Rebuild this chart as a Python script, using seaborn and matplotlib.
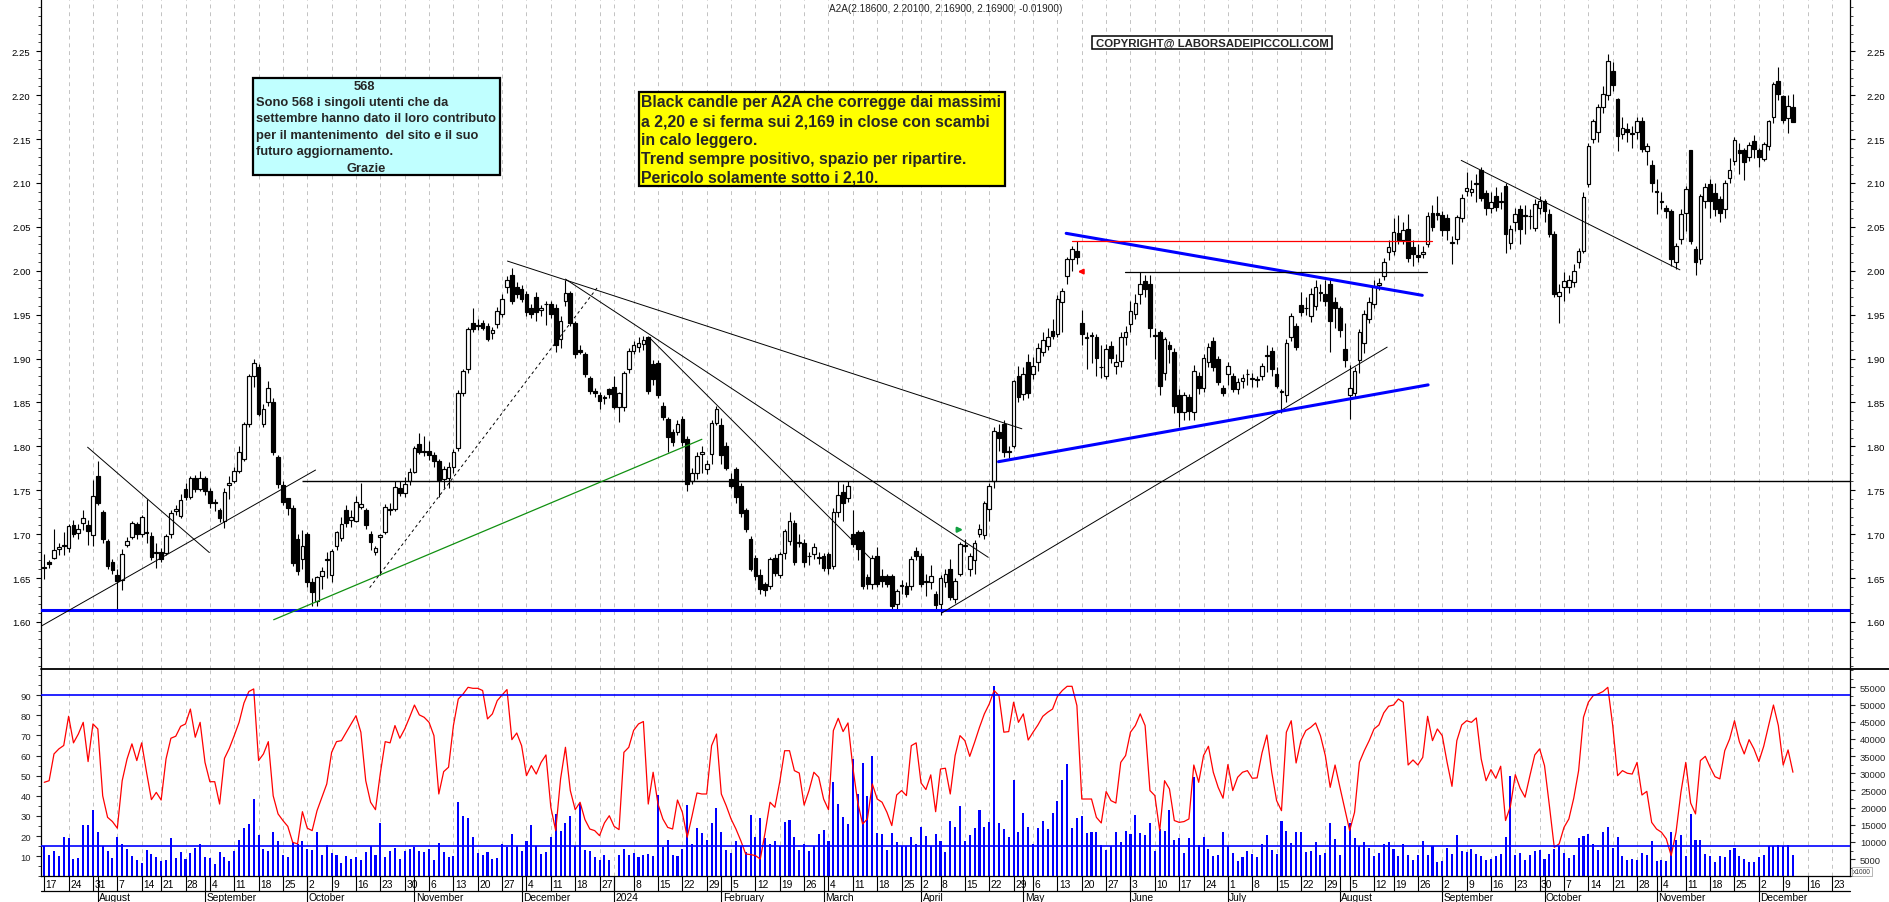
import numpy as np
import pandas as pd
import matplotlib
matplotlib.use("Agg")
import matplotlib.pyplot as plt
from matplotlib import font_manager
from matplotlib.patches import Rectangle
from matplotlib.lines import Line2D
from matplotlib.ticker import MultipleLocator, FixedLocator, FormatStrFormatter, NullLocator
from matplotlib.transforms import blended_transform_factory
import seaborn as sns

# ---------------------------------------------------------------- data
first_day = "2023-07-17"
holidays = ["2023-08-15", "2023-12-25", "2023-12-26", "2024-01-01", "2024-03-29",
            "2024-04-01", "2024-05-01", "2024-08-15", "2024-12-24", "2024-12-25", "2024-12-26"]

opens = [
    1.663, 1.668, 1.673, 1.683, 1.688, 1.684, 1.710, 1.701, 1.713, 1.710,
    1.699, 1.766, 1.725, 1.692, 1.668, 1.653, 1.648, 1.688, 1.697, 1.711,
    1.700, 1.701, 1.698, 1.679, 1.680, 1.679, 1.700, 1.726, 1.721, 1.751,
    1.742, 1.764, 1.751, 1.764, 1.749, 1.737, 1.727, 1.715, 1.756, 1.760,
    1.772, 1.786, 1.826, 1.880, 1.890, 1.825, 1.850, 1.850, 1.788, 1.756,
    1.741, 1.730, 1.694, 1.672, 1.700, 1.645, 1.624, 1.652, 1.671, 1.653,
    1.687, 1.696, 1.728, 1.716, 1.715, 1.731, 1.727, 1.700, 1.680, 1.697,
    1.703, 1.729, 1.729, 1.752, 1.747, 1.760, 1.771, 1.803, 1.795, 1.795,
    1.790, 1.783, 1.763, 1.764, 1.776, 1.798, 1.861, 1.888, 1.941, 1.938,
    1.940, 1.937, 1.929, 1.939, 1.951, 1.981, 1.995, 1.981, 1.979, 1.973,
    1.958, 1.970, 1.955, 1.962, 1.962, 1.958, 1.922, 1.966, 1.975, 1.941,
    1.910, 1.905, 1.878, 1.863, 1.859, 1.856, 1.865, 1.868, 1.845, 1.845,
    1.888, 1.909, 1.913, 1.917, 1.924, 1.894, 1.895, 1.846, 1.831, 1.816,
    1.816, 1.831, 1.808, 1.761, 1.770, 1.791, 1.774, 1.791, 1.827, 1.824,
    1.800, 1.763, 1.774, 1.755, 1.727, 1.694, 1.673, 1.654, 1.643, 1.641,
    1.673, 1.654, 1.679, 1.692, 1.713, 1.690, 1.690, 1.675, 1.677, 1.673,
    1.675, 1.677, 1.664, 1.725, 1.748, 1.741, 1.700, 1.702, 1.702, 1.651,
    1.643, 1.675, 1.652, 1.652, 1.652, 1.620, 1.641, 1.641, 1.641, 1.681,
    1.675, 1.647, 1.645, 1.632, 1.621, 1.645, 1.660, 1.626, 1.655, 1.687,
    1.660, 1.671, 1.700, 1.699, 1.729, 1.760, 1.816, 1.826, 1.795, 1.800,
    1.880, 1.860, 1.896, 1.882, 1.896, 1.907, 1.914, 1.931, 1.928, 1.964,
    1.994, 2.013, 2.022, 1.940, 1.923, 1.926, 1.925, 1.890, 1.880, 1.914,
    1.892, 1.897, 1.924, 1.939, 1.951, 1.973, 1.988, 1.985, 1.926, 1.930,
    1.884, 1.915, 1.908, 1.858, 1.839, 1.856, 1.839, 1.880, 1.867, 1.896,
    1.920, 1.899, 1.867, 1.882, 1.880, 1.865, 1.874, 1.882, 1.878, 1.877,
    1.880, 1.903, 1.909, 1.882, 1.862, 1.858, 1.924, 1.937, 1.961, 1.958,
    1.949, 1.960, 1.975, 1.974, 1.985, 1.964, 1.958, 1.911, 1.858, 1.861,
    1.898, 1.918, 1.945, 1.962, 1.984, 1.994, 2.021, 2.023, 2.043, 2.035,
    2.047, 2.027, 2.018, 2.019, 2.030, 2.066, 2.066, 2.063, 2.060, 2.032,
    2.036, 2.060, 2.091, 2.090, 2.100, 2.115, 2.089, 2.072, 2.085, 2.078,
    2.097, 2.032, 2.056, 2.070, 2.063, 2.062, 2.049, 2.072, 2.079, 2.065,
    2.042, 1.971, 1.981, 1.981, 1.987, 2.010, 2.023, 2.099, 2.150, 2.158,
    2.186, 2.200, 2.228, 2.196, 2.156, 2.162, 2.157, 2.158, 2.171, 2.136,
    2.120, 2.091, 2.078, 2.072, 2.068, 2.010, 2.036, 2.066, 2.137, 2.025,
    2.013, 2.080, 2.099, 2.089, 2.082, 2.070, 2.106, 2.125, 2.137, 2.137,
    2.129, 2.148, 2.137, 2.127, 2.142, 2.175, 2.216, 2.199, 2.174, 2.186,
]
highs = [
    1.677, 1.670, 1.706, 1.690, 1.703, 1.712, 1.716, 1.712, 1.728, 1.716,
    1.762, 1.783, 1.728, 1.695, 1.672, 1.660, 1.683, 1.697, 1.715, 1.714,
    1.722, 1.740, 1.702, 1.690, 1.684, 1.700, 1.727, 1.733, 1.746, 1.758,
    1.766, 1.767, 1.772, 1.766, 1.752, 1.740, 1.730, 1.752, 1.766, 1.777,
    1.800, 1.828, 1.882, 1.900, 1.894, 1.848, 1.874, 1.855, 1.790, 1.760,
    1.741, 1.733, 1.700, 1.705, 1.702, 1.650, 1.652, 1.663, 1.680, 1.683,
    1.704, 1.720, 1.733, 1.727, 1.743, 1.758, 1.730, 1.704, 1.686, 1.700,
    1.734, 1.735, 1.760, 1.760, 1.765, 1.775, 1.800, 1.815, 1.812, 1.806,
    1.793, 1.786, 1.778, 1.782, 1.797, 1.864, 1.888, 1.936, 1.958, 1.945,
    1.944, 1.940, 1.936, 1.959, 1.973, 1.994, 2.003, 1.987, 1.984, 1.977,
    1.962, 1.976, 1.961, 1.966, 1.966, 1.962, 1.948, 1.990, 1.977, 1.943,
    1.915, 1.907, 1.880, 1.866, 1.862, 1.858, 1.866, 1.880, 1.862, 1.886,
    1.912, 1.920, 1.925, 1.926, 1.926, 1.898, 1.898, 1.850, 1.833, 1.820,
    1.830, 1.835, 1.812, 1.775, 1.793, 1.800, 1.785, 1.830, 1.846, 1.832,
    1.805, 1.770, 1.776, 1.758, 1.730, 1.698, 1.676, 1.660, 1.646, 1.674,
    1.677, 1.680, 1.706, 1.725, 1.716, 1.700, 1.695, 1.680, 1.690, 1.680,
    1.678, 1.680, 1.730, 1.760, 1.757, 1.760, 1.728, 1.705, 1.705, 1.655,
    1.676, 1.685, 1.660, 1.655, 1.655, 1.637, 1.648, 1.645, 1.675, 1.685,
    1.678, 1.655, 1.665, 1.635, 1.653, 1.660, 1.672, 1.650, 1.691, 1.695,
    1.678, 1.693, 1.712, 1.738, 1.758, 1.822, 1.826, 1.830, 1.800, 1.876,
    1.892, 1.890, 1.905, 1.902, 1.918, 1.930, 1.935, 1.945, 1.972, 1.980,
    2.016, 2.028, 2.034, 1.955, 1.930, 1.930, 1.928, 1.915, 1.917, 1.920,
    1.905, 1.930, 1.937, 1.965, 1.973, 1.998, 1.995, 1.995, 1.935, 1.933,
    1.925, 1.920, 1.912, 1.865, 1.862, 1.860, 1.893, 1.885, 1.905, 1.918,
    1.925, 1.903, 1.870, 1.896, 1.883, 1.878, 1.882, 1.888, 1.883, 1.880,
    1.895, 1.915, 1.913, 1.890, 1.865, 1.922, 1.952, 1.940, 1.976, 1.970,
    1.980, 1.990, 1.985, 1.990, 1.992, 1.970, 1.960, 1.940, 1.893, 1.890,
    1.934, 1.955, 1.970, 1.990, 1.992, 2.015, 2.035, 2.060, 2.063, 2.055,
    2.065, 2.035, 2.030, 2.028, 2.067, 2.075, 2.085, 2.068, 2.065, 2.040,
    2.064, 2.087, 2.112, 2.103, 2.110, 2.118, 2.092, 2.090, 2.095, 2.090,
    2.100, 2.052, 2.072, 2.075, 2.075, 2.070, 2.082, 2.085, 2.082, 2.070,
    2.045, 1.985, 1.998, 1.995, 2.008, 2.026, 2.090, 2.145, 2.173, 2.190,
    2.210, 2.247, 2.238, 2.197, 2.175, 2.168, 2.165, 2.175, 2.175, 2.145,
    2.126, 2.105, 2.090, 2.075, 2.070, 2.032, 2.070, 2.097, 2.138, 2.028,
    2.087, 2.100, 2.105, 2.100, 2.085, 2.103, 2.128, 2.152, 2.145, 2.140,
    2.147, 2.155, 2.140, 2.147, 2.172, 2.215, 2.232, 2.200, 2.200, 2.201,
]
lows = [
    1.649, 1.662, 1.672, 1.676, 1.676, 1.680, 1.697, 1.695, 1.705, 1.688,
    1.686, 1.733, 1.690, 1.660, 1.655, 1.613, 1.636, 1.685, 1.694, 1.695,
    1.697, 1.690, 1.670, 1.662, 1.668, 1.676, 1.696, 1.722, 1.718, 1.739,
    1.740, 1.748, 1.749, 1.745, 1.730, 1.726, 1.714, 1.707, 1.740, 1.758,
    1.770, 1.783, 1.822, 1.868, 1.834, 1.822, 1.846, 1.790, 1.752, 1.733,
    1.722, 1.664, 1.653, 1.660, 1.640, 1.618, 1.618, 1.638, 1.650, 1.646,
    1.682, 1.692, 1.708, 1.708, 1.714, 1.729, 1.706, 1.682, 1.676, 1.654,
    1.700, 1.722, 1.726, 1.743, 1.742, 1.756, 1.770, 1.791, 1.789, 1.785,
    1.777, 1.742, 1.752, 1.753, 1.770, 1.795, 1.857, 1.884, 1.930, 1.932,
    1.932, 1.920, 1.922, 1.935, 1.947, 1.975, 1.962, 1.969, 1.964, 1.949,
    1.946, 1.943, 1.948, 1.938, 1.946, 1.908, 1.912, 1.960, 1.937, 1.901,
    1.905, 1.879, 1.860, 1.856, 1.843, 1.848, 1.855, 1.842, 1.828, 1.840,
    1.884, 1.905, 1.908, 1.910, 1.860, 1.870, 1.855, 1.830, 1.793, 1.800,
    1.813, 1.800, 1.749, 1.757, 1.763, 1.770, 1.768, 1.780, 1.824, 1.780,
    1.773, 1.752, 1.736, 1.720, 1.703, 1.658, 1.648, 1.632, 1.630, 1.638,
    1.652, 1.650, 1.672, 1.688, 1.665, 1.685, 1.663, 1.665, 1.672, 1.666,
    1.658, 1.655, 1.660, 1.720, 1.715, 1.737, 1.685, 1.670, 1.638, 1.638,
    1.638, 1.640, 1.640, 1.640, 1.615, 1.612, 1.632, 1.628, 1.636, 1.670,
    1.640, 1.630, 1.637, 1.612, 1.608, 1.640, 1.625, 1.622, 1.652, 1.680,
    1.652, 1.655, 1.697, 1.694, 1.715, 1.752, 1.795, 1.788, 1.787, 1.798,
    1.850, 1.853, 1.855, 1.877, 1.886, 1.903, 1.910, 1.922, 1.924, 1.930,
    1.985, 2.000, 2.008, 1.915, 1.888, 1.895, 1.880, 1.878, 1.877, 1.895,
    1.882, 1.890, 1.915, 1.930, 1.945, 1.962, 1.970, 1.925, 1.900, 1.858,
    1.875, 1.895, 1.838, 1.822, 1.830, 1.830, 1.830, 1.860, 1.862, 1.890,
    1.886, 1.870, 1.857, 1.870, 1.862, 1.860, 1.866, 1.870, 1.868, 1.868,
    1.875, 1.885, 1.880, 1.866, 1.838, 1.850, 1.920, 1.910, 1.948, 1.950,
    1.942, 1.955, 1.965, 1.960, 1.908, 1.935, 1.925, 1.890, 1.831, 1.855,
    1.883, 1.906, 1.940, 1.958, 1.978, 1.990, 2.012, 2.018, 2.030, 2.030,
    2.010, 2.005, 2.010, 2.015, 2.027, 2.045, 2.058, 2.040, 2.035, 2.008,
    2.030, 2.055, 2.085, 2.085, 2.078, 2.080, 2.064, 2.066, 2.068, 2.070,
    2.020, 2.025, 2.045, 2.030, 2.042, 2.048, 2.045, 2.065, 2.055, 2.038,
    1.970, 1.940, 1.965, 1.975, 1.982, 2.003, 2.020, 2.095, 2.145, 2.147,
    2.180, 2.195, 2.205, 2.136, 2.150, 2.147, 2.140, 2.150, 2.135, 2.120,
    2.090, 2.065, 2.070, 2.060, 2.005, 2.002, 2.030, 2.045, 2.030, 1.995,
    2.008, 2.072, 2.060, 2.062, 2.055, 2.060, 2.100, 2.120, 2.110, 2.103,
    2.125, 2.128, 2.118, 2.125, 2.138, 2.168, 2.195, 2.168, 2.157, 2.169,
]
closes = [
    1.662, 1.666, 1.682, 1.685, 1.686, 1.709, 1.700, 1.706, 1.718, 1.704,
    1.744, 1.735, 1.694, 1.664, 1.659, 1.647, 1.677, 1.692, 1.713, 1.700,
    1.720, 1.703, 1.674, 1.680, 1.672, 1.698, 1.724, 1.729, 1.739, 1.742,
    1.764, 1.751, 1.764, 1.749, 1.735, 1.735, 1.718, 1.748, 1.758, 1.772,
    1.793, 1.826, 1.880, 1.895, 1.837, 1.842, 1.867, 1.793, 1.757, 1.737,
    1.730, 1.667, 1.658, 1.686, 1.645, 1.634, 1.651, 1.658, 1.672, 1.681,
    1.702, 1.712, 1.713, 1.720, 1.737, 1.734, 1.710, 1.691, 1.684, 1.699,
    1.731, 1.727, 1.754, 1.747, 1.757, 1.771, 1.798, 1.793, 1.793, 1.790,
    1.783, 1.762, 1.774, 1.776, 1.793, 1.861, 1.886, 1.934, 1.934, 1.937,
    1.935, 1.922, 1.932, 1.954, 1.968, 1.989, 1.966, 1.973, 1.968, 1.953,
    1.951, 1.953, 1.957, 1.962, 1.951, 1.915, 1.943, 1.975, 1.941, 1.905,
    1.908, 1.882, 1.863, 1.861, 1.852, 1.855, 1.860, 1.845, 1.861, 1.884,
    1.909, 1.915, 1.918, 1.921, 1.863, 1.877, 1.858, 1.833, 1.811, 1.805,
    1.825, 1.805, 1.757, 1.770, 1.789, 1.794, 1.780, 1.827, 1.842, 1.790,
    1.775, 1.755, 1.742, 1.724, 1.706, 1.660, 1.652, 1.637, 1.636, 1.672,
    1.656, 1.677, 1.704, 1.715, 1.668, 1.690, 1.668, 1.675, 1.685, 1.673,
    1.662, 1.662, 1.725, 1.745, 1.735, 1.755, 1.689, 1.683, 1.641, 1.643,
    1.673, 1.643, 1.647, 1.643, 1.618, 1.635, 1.641, 1.632, 1.672, 1.675,
    1.643, 1.646, 1.652, 1.619, 1.650, 1.655, 1.628, 1.647, 1.689, 1.687,
    1.675, 1.690, 1.706, 1.735, 1.755, 1.818, 1.810, 1.793, 1.793, 1.874,
    1.856, 1.882, 1.861, 1.891, 1.912, 1.921, 1.925, 1.926, 1.968, 1.977,
    2.013, 2.025, 2.016, 1.928, 1.925, 1.926, 1.901, 1.890, 1.911, 1.901,
    1.896, 1.924, 1.930, 1.954, 1.963, 1.985, 1.979, 1.935, 1.926, 1.869,
    1.922, 1.911, 1.846, 1.839, 1.858, 1.840, 1.886, 1.867, 1.901, 1.913,
    1.890, 1.873, 1.861, 1.892, 1.865, 1.873, 1.878, 1.882, 1.877, 1.876,
    1.892, 1.903, 1.888, 1.869, 1.862, 1.918, 1.949, 1.913, 1.953, 1.957,
    1.973, 1.981, 1.975, 1.966, 1.943, 1.958, 1.932, 1.898, 1.867, 1.886,
    1.930, 1.951, 1.964, 1.983, 1.986, 2.010, 2.027, 2.044, 2.035, 2.046,
    2.015, 2.019, 2.016, 2.021, 2.062, 2.050, 2.063, 2.046, 2.046, 2.033,
    2.061, 2.083, 2.094, 2.093, 2.099, 2.083, 2.072, 2.078, 2.073, 2.080,
    2.042, 2.047, 2.065, 2.048, 2.062, 2.062, 2.076, 2.080, 2.068, 2.042,
    1.973, 1.976, 1.988, 1.989, 2.000, 2.023, 2.084, 2.142, 2.170, 2.186,
    2.201, 2.239, 2.211, 2.154, 2.163, 2.158, 2.156, 2.170, 2.139, 2.142,
    2.100, 2.090, 2.080, 2.068, 2.013, 2.028, 2.065, 2.093, 2.034, 2.010,
    2.085, 2.095, 2.080, 2.070, 2.066, 2.100, 2.115, 2.149, 2.134, 2.124,
    2.143, 2.139, 2.129, 2.144, 2.170, 2.213, 2.201, 2.172, 2.188, 2.169,
]
# volume in thousands of shares (right axis, x1000)
volume_k = [
    8930, 6210, 7280, 6020, 11460, 11070, 5050, 5240, 14950, 14950,
    19320, 12820, 8930, 7280, 5340, 11460, 9420, 7960, 5830, 4760,
    3790, 7770, 6410, 5530, 4470, 4760, 11170, 5240, 6990, 5050,
    6800, 8350, 9320, 5730, 5340, 3590, 6990, 5630, 4560, 7380,
    10580, 13980, 15340, 22530, 12040, 7960, 7280, 12820, 10290, 6210,
    5730, 9900, 9420, 10200, 7960, 7770, 12820, 6210, 9220, 6890,
    6210, 3790, 5830, 5150, 5530, 4660, 7190, 8740, 6210, 15440,
    5530, 7280, 8250, 4950, 7380, 7960, 8450, 7380, 7190, 7960,
    4760, 9610, 7090, 5730, 5920, 21650, 17670, 16900, 11360, 6890,
    6120, 6990, 5150, 5440, 9420, 8450, 12330, 8740, 7280, 10390,
    15050, 8930, 6510, 7190, 11360, 18060, 13300, 15540, 17480, 8740,
    21360, 7570, 7280, 5630, 4660, 6210, 4660, 190, 6210, 7960,
    6310, 6800, 5730, 6210, 6510, 5830, 23690, 8450, 10680, 6210,
    6020, 7960, 20780, 9420, 13980, 12620, 10580, 15440, 19810, 12820,
    7770, 6800, 10290, 8930, 6990, 17870, 11460, 16990, 11170, 9420,
    10290, 8930, 15920, 16410, 11460, 7770, 9420, 7480, 8930, 12230,
    13590, 10290, 27580, 21070, 17380, 15240, 34180, 23980, 33010, 23500,
    35050, 12530, 12330, 7770, 12530, 9900, 8930, 8930, 11550, 9420,
    14470, 11750, 8930, 12330, 10200, 6990, 16120, 14470, 20390, 10290,
    12040, 13980, 19230, 14370, 15920, 55350, 15440, 13790, 11360, 28060,
    12820, 18450, 14270, 9420, 14180, 16020, 13790, 18450, 21940, 28060,
    32720, 13980, 16990, 17580, 12530, 12820, 12820, 9220, 7770, 8930,
    12820, 9900, 13110, 12330, 17870, 12620, 12040, 15440, 7280, 13790,
    13300, 19420, 10490, 11070, 6800, 11260, 29030, 9220, 11460, 7960,
    6020, 6210, 12910, 8930, 6700, 4560, 5730, 7480, 6600, 5530,
    9420, 11940, 7670, 6410, 16220, 13210, 9610, 12820, 12820, 7190,
    7480, 9900, 6210, 6800, 15540, 10880, 6210, 14760, 15540, 11170,
    8740, 9900, 8250, 6020, 6700, 9420, 9900, 7960, 6020, 9320,
    6310, 4760, 6210, 10200, 6310, 8930, 4080, 4560, 8350, 6510,
    12040, 7380, 6990, 8060, 6510, 6020, 4760, 5050, 6020, 6510,
    11360, 29130, 6210, 6800, 4760, 6210, 7380, 7770, 5050, 6510,
    7960, 8740, 6800, 5440, 6210, 11260, 11750, 12330, 9320, 7770,
    13010, 14370, 8350, 11550, 6020, 4860, 5050, 4860, 6800, 6210,
    10200, 4370, 4660, 4560, 12820, 10680, 12040, 6020, 18160, 10680,
    10680, 6600, 5830, 4080, 6020, 5530, 7770, 8250, 6020, 5050,
    4080, 4080, 5530, 6210, 8740, 8740, 9220, 8840, 9220, 6210,
]
oscillator = [
    46.7, 47.5, 60.8, 63.3, 65.0, 79.5, 66.3, 70.7, 76.5, 57.0,
    75.7, 73.2, 40.0, 29.3, 27.2, 23.9, 47.5, 58.3, 65.8, 57.5,
    66.3, 51.7, 38.1, 41.7, 37.9, 58.3, 68.6, 69.6, 74.5, 75.7,
    83.1, 69.1, 76.5, 56.6, 47.0, 47.0, 35.9, 58.6, 63.6, 69.9,
    76.5, 86.1, 91.8, 93.1, 57.5, 60.8, 66.9, 40.0, 31.0, 27.7,
    24.8, 16.9, 16.1, 32.1, 23.9, 22.7, 32.6, 39.3, 45.9, 61.6,
    66.9, 67.4, 71.6, 75.7, 79.8, 71.6, 47.5, 36.8, 33.1, 51.3,
    66.9, 66.3, 74.9, 68.6, 73.2, 79.0, 85.1, 80.2, 79.0, 76.5,
    69.9, 40.9, 52.0, 54.2, 74.9, 88.1, 90.6, 93.9, 93.4, 93.4,
    92.3, 78.2, 80.7, 87.3, 90.1, 92.8, 67.9, 71.2, 64.9, 50.0,
    55.0, 50.8, 56.6, 60.3, 34.3, 22.7, 48.4, 64.1, 42.6, 33.1,
    36.8, 28.2, 23.5, 22.7, 20.2, 26.5, 30.1, 24.8, 23.2, 61.6,
    64.1, 72.5, 75.7, 76.9, 35.9, 51.7, 35.9, 28.5, 24.3, 23.5,
    37.9, 31.8, 19.4, 30.1, 41.4, 40.9, 40.9, 64.9, 70.7, 40.9,
    35.1, 28.5, 23.5, 17.7, 11.1, 10.8, 10.3, 8.6, 21.9, 36.8,
    34.3, 47.0, 62.4, 62.4, 52.5, 51.3, 35.4, 42.6, 51.7, 49.2,
    38.4, 33.1, 72.4, 78.5, 71.9, 76.2, 54.2, 36.8, 26.0, 28.5,
    45.9, 38.4, 36.8, 31.8, 25.2, 40.4, 42.6, 40.1, 64.9, 66.3,
    46.4, 43.1, 50.4, 32.1, 53.3, 53.7, 40.9, 60.0, 69.9, 67.4,
    59.6, 66.6, 74.0, 80.7, 85.6, 92.3, 89.8, 71.6, 71.9, 86.5,
    76.5, 80.7, 67.7, 71.6, 75.2, 79.5, 81.5, 83.1, 89.4, 92.3,
    94.4, 94.4, 84.8, 38.4, 38.4, 38.4, 29.3, 26.5, 42.1, 37.6,
    36.4, 56.6, 60.0, 71.6, 74.9, 80.7, 74.9, 42.6, 40.1, 22.7,
    47.5, 43.4, 27.7, 26.8, 27.2, 28.5, 55.3, 46.7, 60.0, 64.6,
    51.7, 44.2, 38.8, 55.5, 42.6, 49.2, 51.7, 52.5, 48.7, 48.9,
    61.3, 70.2, 51.7, 37.6, 32.6, 71.6, 77.3, 56.3, 67.4, 72.4,
    74.0, 76.2, 69.9, 60.0, 44.2, 55.3, 44.2, 33.5, 22.7, 31.8,
    56.6, 62.4, 67.4, 73.2, 75.2, 81.2, 84.5, 85.1, 88.1, 86.5,
    55.3, 57.8, 55.3, 59.1, 79.5, 67.4, 73.2, 69.9, 56.6, 44.7,
    67.4, 75.2, 77.3, 76.5, 78.7, 58.3, 47.5, 53.0, 48.7, 54.7,
    27.7, 34.8, 50.5, 43.7, 39.3, 50.0, 60.3, 63.3, 55.0, 35.1,
    14.4, 16.1, 24.3, 28.5, 38.8, 52.5, 79.0, 86.5, 89.8, 90.6,
    91.8, 93.9, 74.9, 50.0, 52.5, 51.2, 50.8, 56.6, 40.4, 42.2,
    26.8, 23.5, 21.9, 18.6, 10.3, 21.9, 41.7, 56.6, 36.4, 31.0,
    57.5, 59.6, 54.2, 49.5, 48.4, 62.4, 68.2, 77.3, 66.9, 60.8,
    67.9, 63.3, 57.0, 64.6, 74.9, 85.1, 74.9, 55.3, 62.8, 51.7,
]
osc_levels = [90, 15]
price_ticks = [1.60, 1.65, 1.70, 1.75, 1.80, 1.85, 1.90, 1.95, 2.00, 2.05, 2.10, 2.15, 2.20, 2.25]
osc_ticks = [10, 20, 30, 40, 50, 60, 70, 80, 90]
vol_ticks = [5000, 10000, 15000, 20000, 25000, 30000, 35000, 40000, 45000, 50000, 55000]
month_names = {1: "2024", 2: "February", 3: "March", 4: "April", 5: "May", 6: "June",
               7: "July", 8: "August", 9: "September", 10: "October", 11: "November",
               12: "December"}

title = "A2A(2.18600, 2.20100, 2.16900, 2.16900, -0.01900)"
copyright_txt = "COPYRIGHT@ LABORSADEIPICCOLI.COM"
thanks_lines = ["Sono 568 i singoli utenti che da",
                "settembre hanno dato il loro contributo",
                "per il mantenimento  del sito e il suo",
                "futuro aggiornamento."]
comment_lines = ["Black candle per A2A che corregge dai massimi",
                 "a 2,20 e si ferma sui 2,169 in close con scambi",
                 "in calo leggero.",
                 "Trend sempre positivo, spazio per ripartire.",
                 "Pericolo solamente sotto i 2,10."]

# hand drawn trend lines: (day0, price0, day1, price1, colour, width, style)
trend_lines = [
    (8.9, 1.799, 33.9, 1.679, "black", 0.7, "-"),
    (-0.7, 1.595, 55.7, 1.773, "black", 0.7, "-"),
    (47.1, 1.6025, 135.0, 1.808, "#109010", 0.9, "-"),
    (66.8, 1.639, 113.7, 1.982, "black", 0.7, (0, (3, 3))),
    (95.1, 2.011, 200.7, 1.820, "black", 0.7, "-"),
    (107.0, 1.9905, 193.8, 1.6736, "black", 0.7, "-"),
    (124.2, 1.924, 169.5, 1.673, "black", 0.7, "-"),
    (184.2, 1.610, 275.7, 1.913, "black", 0.7, "-"),
    (195.9, 1.7825, 284.1, 1.870, "#0000ff", 2.2, "-"),
    (209.8, 2.0426, 282.9, 1.972, "#0000ff", 2.2, "-"),
    (211.0, 2.034, 284.8, 2.034, "#ff0000", 0.9, "-"),
    (221.9, 1.998, 283.8, 1.998, "black", 0.9, "-"),
    (290.9, 2.1257, 335.8, 2.001, "black", 0.7, "-"),
]

# ---------------------------------------------------------------- layout
sns.set_style("white")
available = {f.name for f in font_manager.fontManager.ttflist}
NARROW = "Liberation Sans Narrow" if "Liberation Sans Narrow" in available else "Liberation Sans"
plt.rcParams["font.family"] = ["Liberation Sans", "DejaVu Sans"]

W, H = 1890, 903
X0, DX = 44.25, 4.871          # pixel of first session, pixels per session


def fx(px):
    return px / W


def fy(py):
    return 1 - py / H


def xi(px):
    return (px - X0) / DX


days = pd.bdate_range(first_day, "2024-12-27")
days = days[~days.isin(pd.to_datetime(holidays))]
n = len(closes)
idx = np.arange(n)
o, h, l, c = (np.array(a) for a in (opens, highs, lows, closes))

week_starts = [i for i in range(len(days)) if i == 0 or days[i].weekday() < days[i - 1].weekday()]
month_starts = [i for i in range(1, len(days)) if days[i].month != days[i - 1].month]

fig = plt.figure(figsize=(W / 100, H / 100), dpi=100)
ax = fig.add_axes([fx(41), fy(670), (1850 - 41) / W, 670 / H])
ax_osc = fig.add_axes([fx(41), fy(877.3), (1850 - 41) / W, (877.3 - 670) / H])
ax_vol = ax_osc.twinx()
ax_r = ax.twinx()
xlim = (xi(41), xi(1850))
for a in (ax, ax_osc, ax_vol, ax_r):
    a.set_xlim(*xlim)
    a.grid(False)
    a.xaxis.set_major_locator(NullLocator())
    a.xaxis.set_minor_locator(NullLocator())

grid_kw = dict(color="#c2c2c2", lw=0.7, ls=(0, (4, 4)), zorder=0)
for i in week_starts[1:]:
    ax.axvline(i, **grid_kw)
    ax_vol.axvline(i, **grid_kw)

# ---------------------------------------------------------------- price panel
ax.set_ylim(1.5464, 2.3095)
ax_r.set_ylim(1.5464, 2.3095)
ax.vlines(idx, l, h, color="black", lw=0.8, zorder=2)
up = c >= o
body = np.maximum(np.abs(c - o), 0.0006)
ax.bar(idx[up], body[up], bottom=o[up], width=0.76, facecolor="white",
       edgecolor="black", lw=0.85, zorder=3)
ax.bar(idx[~up], body[~up], bottom=c[~up], width=0.76, facecolor="black",
       edgecolor="black", lw=0.85, zorder=3)

ax.axhline(1.614, color="#0000ff", lw=2.2, zorder=4)
ax.hlines(1.76, xi(302), xlim[1], color="black", lw=1.0, zorder=4)
for d0, p0, d1, p1, col, lw, ls in trend_lines:
    ax.plot([d0, d1], [p0, p1], color=col, lw=lw, ls=ls, zorder=4)
ax.annotate("", xy=(211.6, 1.999), xytext=(213.8, 1.999),
            arrowprops=dict(arrowstyle="-|>", color="#ff0000", lw=1.4, mutation_scale=7))
ax.annotate("", xy=(189.2, 1.705), xytext=(186.8, 1.705),
            arrowprops=dict(arrowstyle="-|>", color="#10a040", lw=1.6, mutation_scale=7))

for a, side, pad in ((ax, "left", 3.9), (ax_r, "right", 8.3)):
    a.yaxis.set_major_locator(FixedLocator(price_ticks))
    a.yaxis.set_minor_locator(MultipleLocator(0.01))
    a.yaxis.set_major_formatter(FormatStrFormatter("%.2f"))
    a.tick_params(axis="y", which="major", direction="out", length=3.6, width=0.8,
                  pad=pad, labelsize=6.8, colors="black",
                  left=(side == "left"), right=(side == "right"),
                  labelleft=(side == "left"), labelright=(side == "right"))
    a.tick_params(axis="y", which="minor", direction="out", length=2, width=0.6,
                  left=(side == "left"), right=(side == "right"))
for s in ("top", "bottom"):
    ax.spines[s].set_visible(False)
for s in ax_r.spines.values():
    s.set_visible(False)
for s in ("left", "right"):
    ax.spines[s].set_color("black")
    ax.spines[s].set_linewidth(0.9)

# ---------------------------------------------------------------- oscillator / volume panel
ax_osc.set_ylim(0, 103.0)
ax_vol.set_ylim(0, 60367)
ax_vol.bar(idx, volume_k, width=0.42, color="#0000ff", lw=0, zorder=2)
sns.lineplot(x=idx, y=oscillator, ax=ax_osc, color="#ff0000", lw=0.9, legend=False, zorder=3)
for lev in osc_levels:
    ax_osc.axhline(lev, color="#0000ff", lw=1.2, zorder=4)
ax_osc.set_zorder(ax_vol.get_zorder() + 1)
ax_osc.patch.set_visible(False)
ax_osc.set_xlabel("")
ax_osc.set_ylabel("")

ax_osc.yaxis.set_major_locator(FixedLocator(osc_ticks))
ax_osc.yaxis.set_minor_locator(MultipleLocator(5))
ax_osc.tick_params(axis="y", which="major", direction="out", length=3.6, width=0.8,
                   pad=3.6, labelsize=6.8, left=True, right=False, labelleft=True, labelright=False)
ax_osc.tick_params(axis="y", which="minor", direction="out", length=2, width=0.6, left=True, right=False)
ax_vol.yaxis.set_major_locator(FixedLocator(vol_ticks))
ax_vol.yaxis.set_minor_locator(MultipleLocator(2500))
ax_vol.yaxis.set_major_formatter(FormatStrFormatter("%d"))
ax_vol.tick_params(axis="y", which="major", direction="out", length=3.6, width=0.8,
                   pad=3.6, labelsize=6.8, left=False, right=True, labelleft=False, labelright=True)
ax_vol.tick_params(axis="y", which="minor", direction="out", length=2, width=0.6, left=False, right=True)
for s in ("top", "right"):
    ax_osc.spines[s].set_visible(False)
for s in ("top", "bottom", "left"):
    ax_vol.spines[s].set_visible(False)
for s in ("left", "bottom"):
    ax_osc.spines[s].set_color("black")
    ax_osc.spines[s].set_linewidth(0.9)
ax_vol.spines["right"].set_color("black")
ax_vol.spines["right"].set_linewidth(0.9)


def fig_line(x0, y0, x1, y1, lw=0.9, color="black"):
    fig.add_artist(Line2D([fx(x0), fx(x1)], [fy(y0), fy(y1)], color=color, lw=lw,
                          transform=fig.transFigure))


fig_line(41, 670, 1890, 670, lw=1.3)

# ---------------------------------------------------------------- date rows
tx = blended_transform_factory(ax_osc.transData, fig.transFigure)
fig_line(41, 891.7, 1850, 891.7, lw=0.9)
for i in week_starts:
    ax_osc.add_artist(Line2D([i, i], [fy(877.3), fy(891.7)], color="black", lw=0.8,
                             transform=tx, clip_on=False))
    d = days[i]
    if d.month == 1 and i in month_starts:
        continue
    ax_osc.text(i + 0.3, fy(884.8), str(d.day), transform=tx, ha="left", va="center",
                fontsize=7.4, color="black", clip_on=False)
for i in month_starts:
    ax_osc.add_artist(Line2D([i, i], [fy(877.3), fy(903)], color="black", lw=0.8,
                             transform=tx, clip_on=False))
    ax_osc.text(i + 0.3, fy(898.3), month_names[days[i].month], transform=tx, ha="left",
                va="center", fontsize=7.4, color="black", clip_on=False)

fig.text(fx(1853), fy(872.5), "x1000", fontsize=4.8, ha="left", va="center", color="#333333",
         bbox=dict(boxstyle="square,pad=0.15", fc="white", ec="#999999", lw=0.5))

# ---------------------------------------------------------------- text boxes
renderer = fig.canvas.get_renderer()


def fitted_size(s, target_px, **kw):
    t = fig.text(0, 0, s, fontsize=10, **kw)
    w = t.get_window_extent(renderer).width
    t.remove()
    return 10 * target_px / w


fig.text(fx(946), fy(9), title, ha="center", va="center", color="#222222",
         fontsize=fitted_size(title, 232))

fig.add_artist(Rectangle((fx(1092), fy(50)), (1332 - 1092) / W, 13 / H, transform=fig.transFigure,
                         facecolor="white", edgecolor="black", lw=1.1))
fig.text(fx(1212), fy(43.6), copyright_txt, ha="center", va="center", fontweight="bold",
         fontsize=fitted_size(copyright_txt, 232, fontweight="bold"))

fig.add_artist(Rectangle((fx(253), fy(176)), (500 - 253) / W, (176 - 79) / H,
                         transform=fig.transFigure, facecolor="#c0ffff", edgecolor="black", lw=1.6))
cy_kw = dict(fontfamily=NARROW, fontweight="bold")
cy_size = fitted_size(thanks_lines[1], 240, **cy_kw)
fig.text(fx(364), fy(86.5), "568", ha="center", va="center", fontsize=cy_size, **cy_kw)
for k, line in enumerate(thanks_lines):
    fig.text(fx(256), fy(103 + 16.4 * k), line, ha="left", va="center", fontsize=cy_size, **cy_kw)
fig.text(fx(366), fy(168.6), "Grazie", ha="center", va="center", fontsize=cy_size, **cy_kw)

fig.add_artist(Rectangle((fx(639), fy(187)), (1005 - 639) / W, (187 - 93) / H,
                         transform=fig.transFigure, facecolor="#ffff00", edgecolor="black", lw=1.6))
ye_size = fitted_size(comment_lines[0], 362, **cy_kw)
for k, line in enumerate(comment_lines):
    fig.text(fx(641.5), fy(103 + 18.8 * k), line, ha="left", va="center", fontsize=ye_size, **cy_kw)

fig.savefig("out.png", dpi=100)
